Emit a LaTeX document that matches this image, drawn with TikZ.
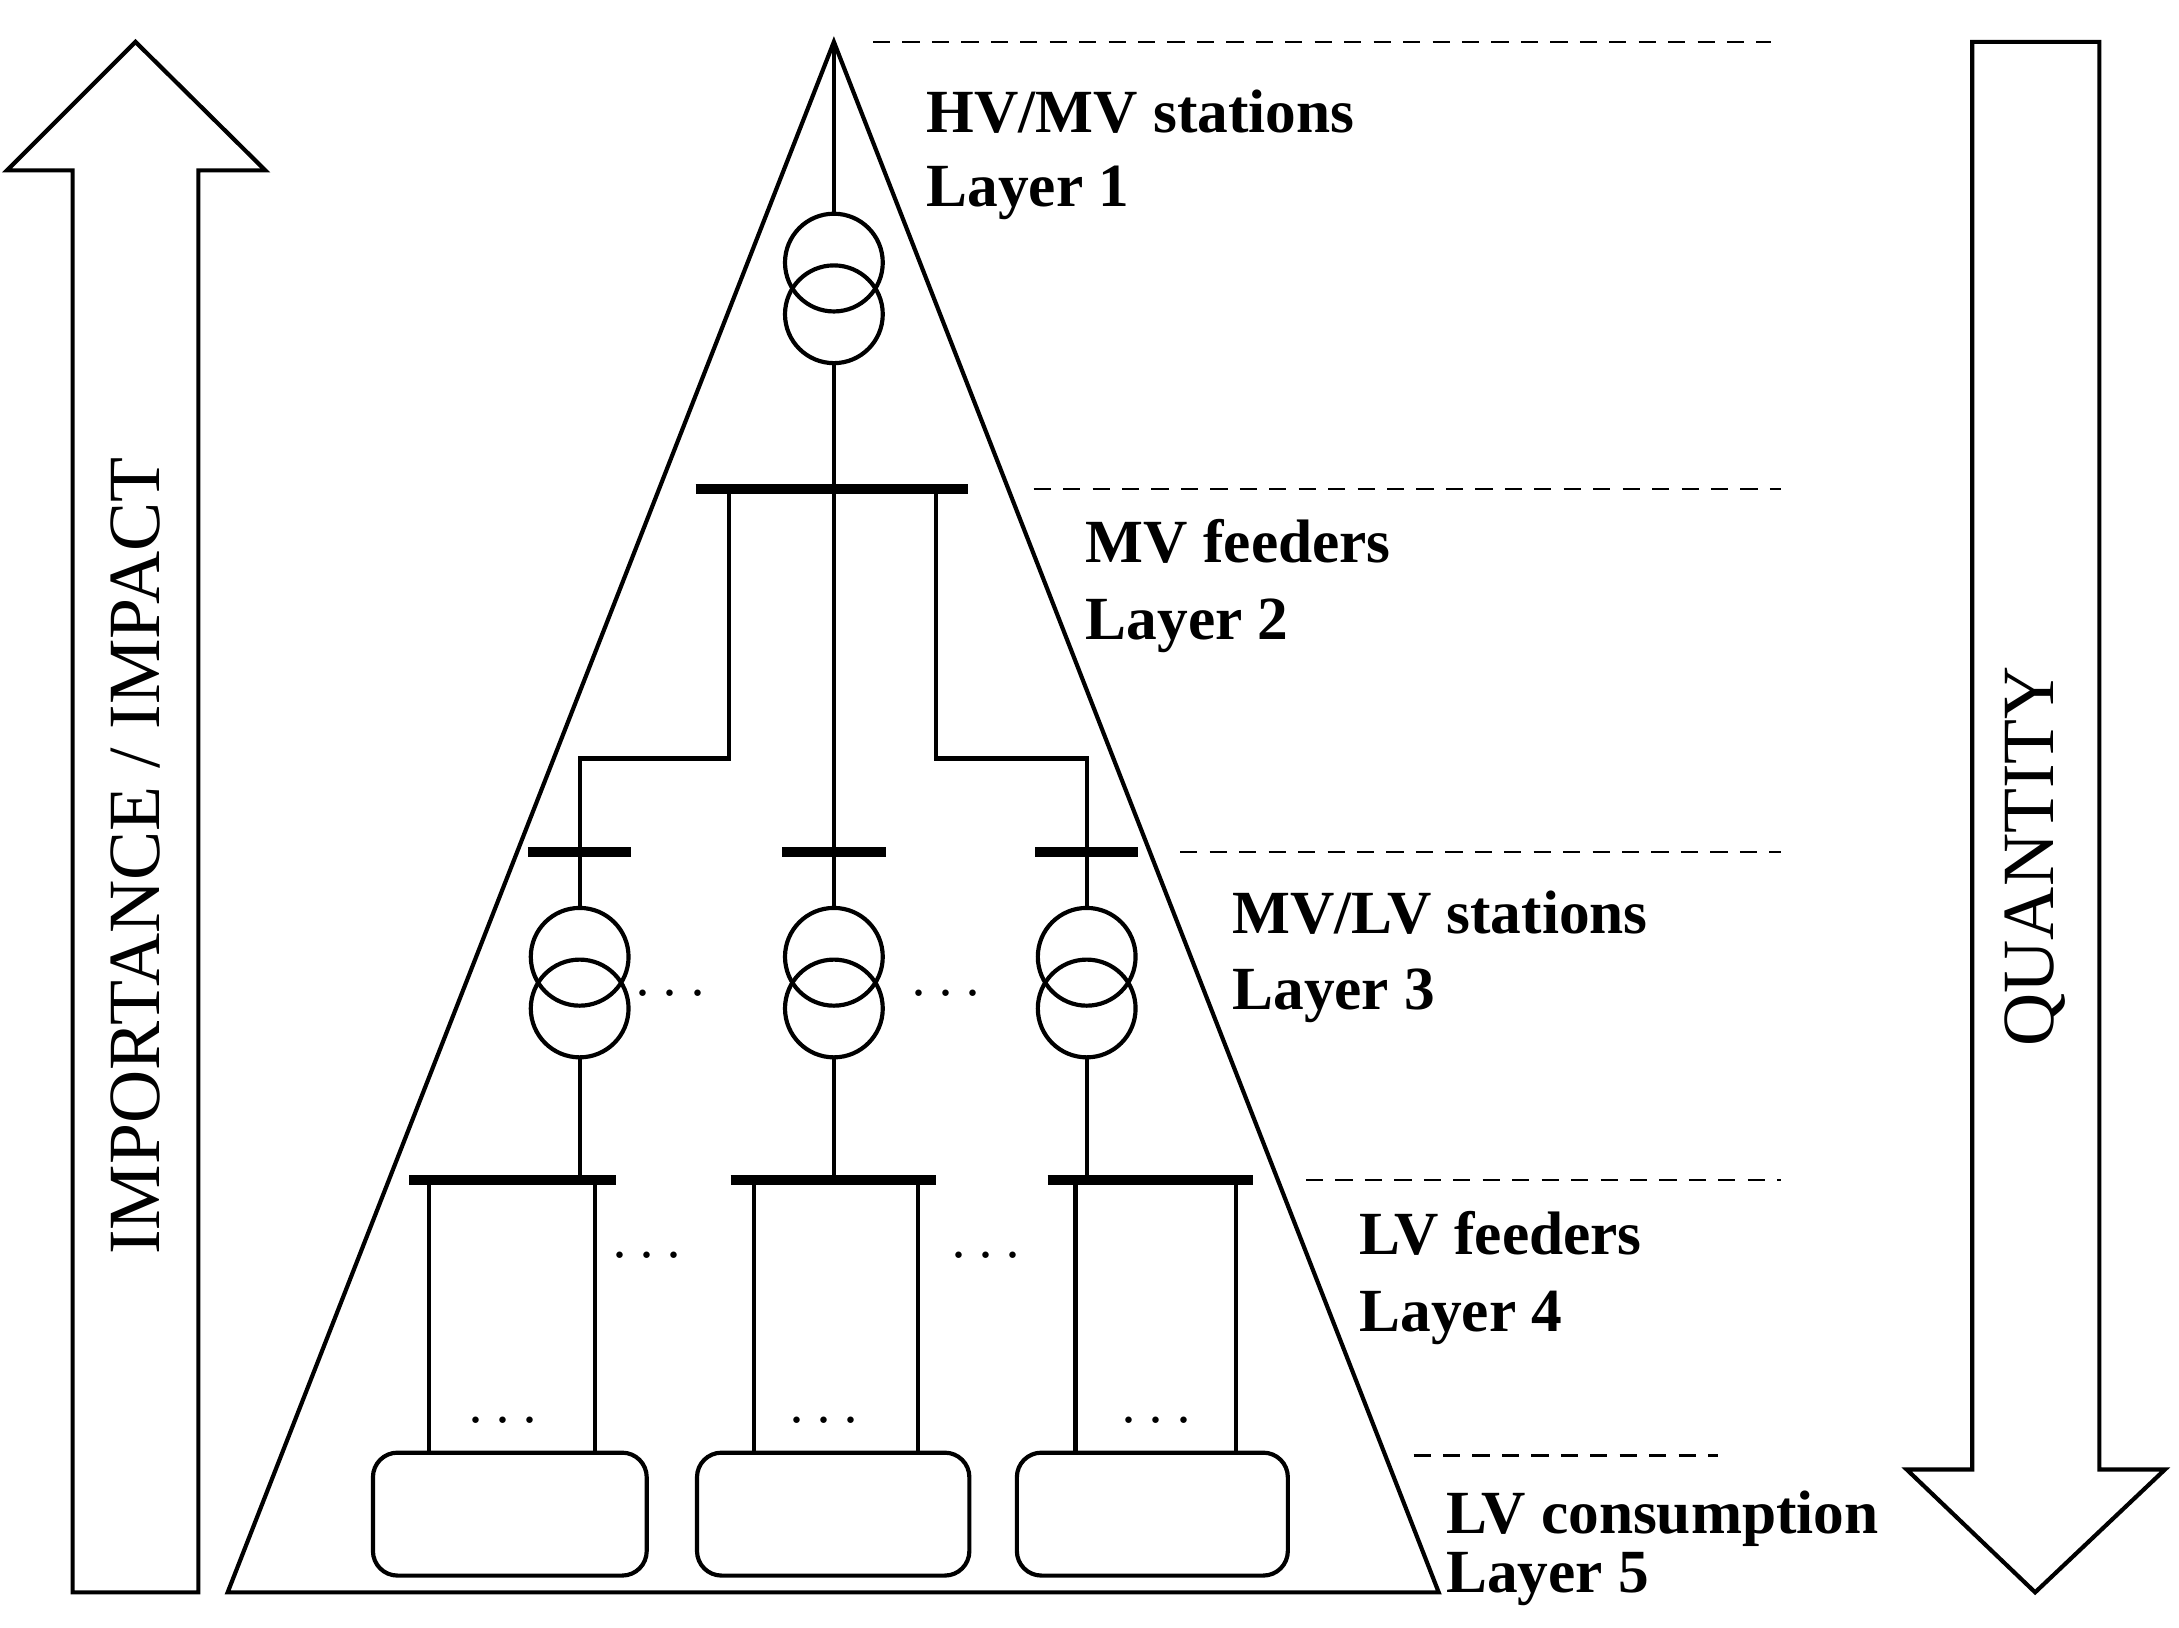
\documentclass[tikz,border=0pt]{standalone}
\usepackage{fontspec}
\setmainfont{Liberation Serif}
\begin{document}
\begin{tikzpicture}[x=0.02cm,y=-0.02cm,
  ln/.style={line width=1.7pt},
  bar/.style={line width=4pt},
  tr/.style={ln,circle,minimum size=1.4cm,inner sep=0pt},
  lbl/.style={anchor=base west,inner sep=0pt,font=\fontsize{25}{29}\selectfont\bfseries},
  dots/.style={font=\fontsize{28}{32}\selectfont},
  dsh/.style={line width=0.9pt,dash pattern=on 7pt off 5pt}]
\useasboundingbox (0,0) rectangle (1560,1165);
% arrows
\draw[ln] (52,1140) -- (52,122) -- (5,122) -- (97,30) -- (190,122) -- (142,122) -- (142,1140) -- cycle;
\draw[ln] (1412,30) -- (1412,1052) -- (1365,1052) -- (1457,1140) -- (1550,1052) -- (1503,1052) -- (1503,30) -- cycle;
\node[rotate=90,font=\fontsize{30}{34}\selectfont] (imp) at (97,613) {IMPORTANCE / IMPACT};
\node[rotate=90,font=\fontsize{30}{34}\selectfont] (qty) at (1457,613) {QUANTITY};
% triangle
\draw[ln] (597,30) -- (163,1140) -- (1030,1140) -- cycle;
% dashed
\draw[dsh] (625,30) -- (1268,30);
\draw[dsh] (740,350) -- (1275,350);
\draw[dsh] (845,610) -- (1275,610);
\draw[dsh] (935,845) -- (1275,845);
\draw[dsh] (1012,1042) -- (1230,1042);
% labels
\node[lbl] at (663,95) {HV/MV stations};
\node[lbl] at (663,148) {Layer 1};
\node[lbl] at (777,403) {MV feeders};
\node[lbl] at (777,458) {Layer 2};
\node[lbl] at (882,668) {MV/LV stations};
\node[lbl] at (882,723) {Layer 3};
\node[lbl] at (973,898) {LV feeders};
\node[lbl] at (973,953) {Layer 4};
\node[lbl] at (1035,1098) {LV consumption};
\node[lbl] at (1035,1140) {Layer 5};
% top transformer
\node[tr,draw] (t1a) at (597,188) {};
\node[tr,draw] (t1b) at (597,225) {};
\coordinate (apex) at (597,30);
\draw[ln] (apex) -- (t1a.north);
\coordinate (b1c) at (597,350);
\draw[ln] (t1b.south) -- (b1c);
\draw[bar] (498,350) -- (693,350);
% MV feeders
\draw[ln] (522,350) -- (522,543) -- (415,543) -- (415,610);
\draw[ln] (670,350) -- (670,543) -- (778,543) -- (778,610);
\draw[ln] (597,350) -- (597,610);
\foreach \x/\n in {415/a,597/b,778/c}{
  \draw[bar] (\x-37,610) -- (\x+37,610);
  \node[tr,draw] (s\n1) at (\x,685) {};
  \node[tr,draw] (s\n2) at (\x,722) {};
  \draw[ln] (\x,610) -- (s\n1.north);
  \draw[ln] (s\n2.south) -- (\x,845);
}
\node[dots] at (480,712) {$\cdots$};
\node[dots] at (677,712) {$\cdots$};
% LV bars and feeders
\draw[bar] (293,845) -- (441,845);
\draw[bar] (523,845) -- (670,845);
\draw[bar] (750,845) -- (897,845);
\foreach \x in {307,426,540,657,770,885}{\draw[ln] (\x,845) -- (\x,1040);}
\node[dots] at (463,900) {$\cdots$};
\node[dots] at (706,900) {$\cdots$};
\node[dots] at (360,1018) {$\cdots$};
\node[dots] at (590,1018) {$\cdots$};
\node[dots] at (828,1018) {$\cdots$};
% consumption boxes
\draw[ln,rounded corners=10pt] (267,1040) rectangle (463,1128);
\draw[ln,rounded corners=10pt] (499,1040) rectangle (694,1128);
\draw[ln,rounded corners=10pt] (728,1040) rectangle (922,1128);
\end{tikzpicture}
\end{document}
